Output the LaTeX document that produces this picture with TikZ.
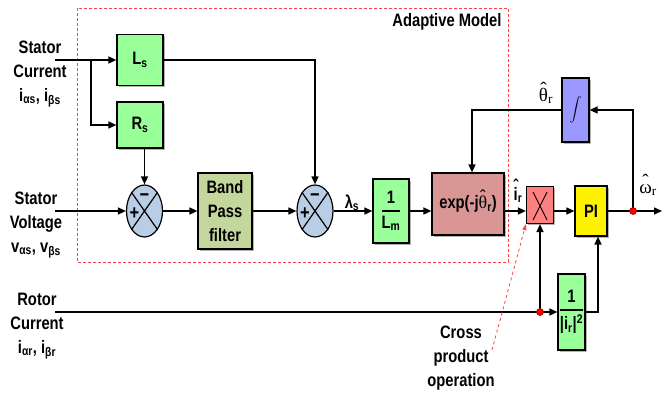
\documentclass[tikz,border=0pt]{standalone}
\usepackage{amsmath}
\usepackage{fontspec}
\setmainfont{Liberation Sans}[FakeStretch=0.82]
\newfontfamily\serifgr{Liberation Serif}
\usetikzlibrary{arrows.meta,shapes.geometric,shadows}
\definecolor{gbox}{HTML}{99FF99}
\definecolor{junc}{HTML}{B9CDE5}
\definecolor{bpcol}{HTML}{C3D69B}
\definecolor{expcol}{HTML}{D99694}
\definecolor{crosscol}{HTML}{FF8080}
\definecolor{intcol}{HTML}{9999FF}
\definecolor{dashcol}{HTML}{FF4040}
\newcommand\hatover[2]{\ooalign{#2\cr\hidewidth\raisebox{#1}{ˆ}\hidewidth\cr}}
\begin{document}
\begin{tikzpicture}[x=1pt,y=-1pt,
  font=\fontsize{18}{24}\selectfont\bfseries,
  >={Triangle[length=8pt,width=7pt]},
  box/.style={draw,line width=1.2pt,inner sep=0pt,
    drop shadow={shadow xshift=1.5pt,shadow yshift=-1.5pt,fill=black!50,opacity=.6}},
  sumj/.style={ellipse,draw,line width=1.2pt,fill=junc,minimum width=36pt,minimum height=52pt,inner sep=0pt},
  conn/.style={->,line width=1.5pt},
  plain/.style={line width=1.5pt},
  dot/.style={circle,fill=red,draw=red!60!black,line width=0.6pt,minimum size=7pt,inner sep=0pt},
  sgn/.style={font=\fontsize{20}{20}\selectfont\bfseries,inner sep=0pt},
  hatlbl/.style={font=\fontsize{19}{20}\selectfont\serifgr,inner sep=0pt}]
\useasboundingbox (0,0) rectangle (671,396);

% adaptive model frame
\draw[dashcol,densely dashed,line width=0.8pt] (77,8) rectangle (508,262);
\node[anchor=east] (am) at (505,22) {Adaptive Model};

% left labels
\node[align=center] (scl) at (40,74) {Stator\\Current\\i\textsubscript{αs}, i\textsubscript{βs}};
\node[align=center] (svl) at (36,225) {Stator\\Voltage\\v\textsubscript{αs}, v\textsubscript{βs}};
\node[align=center] (rcl) at (37,326) {Rotor\\Current\\i\textsubscript{αr}, i\textsubscript{βr}};

% blocks
\node[box,fill=gbox,minimum width=46pt,minimum height=51pt] (Ls) at (140,60) {L\textsubscript{s}};
\node[box,fill=gbox,minimum width=46pt,minimum height=46pt] (Rs) at (140,125) {R\textsubscript{s}};
\node[sumj] (j1) at (144.5,211) {};
\draw[line width=1.2pt] (j1.north west) -- (j1.south east) (j1.north east) -- (j1.south west);
\node[sgn] (j1m) at ([yshift=13pt]j1.center) {−};
\node[sgn] (j1p) at ([xshift=-10pt,yshift=-3pt]j1.center) {+};
\node[box,fill=bpcol,minimum width=54pt,minimum height=76pt,align=center] (bpf) at (225,211) {Band\\Pass\\filter};
\node[sumj] (j2) at (315,211) {};
\draw[line width=1.2pt] (j2.north west) -- (j2.south east) (j2.north east) -- (j2.south west);
\node[sgn] (j2m) at ([yshift=13pt]j2.center) {−};
\node[sgn] (j2p) at ([xshift=-10pt,yshift=-3pt]j2.center) {+};
\node[box,fill=gbox,minimum width=36pt,minimum height=64pt] (lm) at (391,211)
  {$\genfrac{}{}{1.4pt}{0}{\text{1}}{\text{L\textsubscript{m}}}$};
\node[box,fill=expcol,minimum width=72pt,minimum height=62pt] (exp) at (468,204)
  {exp(-j{\serifgr\mdseries\hatover{0.32em}{θ}}\textsubscript{r})};
\node[box,fill=crosscol,minimum width=27pt,minimum height=37pt] (cx) at (540,205) {};
\draw[line width=0.9pt] (cx.center) ++(-7,-13) -- ++(14,28) (cx.center) ++(7,-13) -- ++(-14,28);
\node[box,fill=yellow,minimum width=32pt,minimum height=50pt] (PI) at (591,211) {PI};
\node[box,fill=intcol,minimum width=27pt,minimum height=64pt] (int) at (575.5,110)
  {\fontsize{12}{12}\selectfont$\displaystyle\int$};
\node[box,fill=gbox,minimum width=27pt,minimum height=76pt] (inv) at (571.5,312)
  {$\genfrac{}{}{1.4pt}{0}{\text{1}}{\text{|i\textsubscript{r}|\textsuperscript{2}}}$};

% signal labels
\node (lam) at (352,203) {λ\textsubscript{s}};
\node (ihat) at (518,195) {\hatover{0.42em}{i}\textsubscript{r}};
\node[hatlbl] (thl) at (546,96) {\hatover{0.32em}{θ}\textsubscript{r}};
\node[hatlbl] (oml) at (648,190) {\hatover{0.32em}{ω}\textsubscript{r}};
\node[align=center] (cpo) at (461,358) {Cross\\product\\operation};

% coordinates
\coordinate (sc) at (55,60);
\coordinate (br) at (91,60);
\coordinate (sv) at (55,211);
\coordinate (rc) at (55,312);
\coordinate (p1) at (633,211);
\coordinate (p2) at (540,312);
\coordinate (out) at (662,211);
\coordinate (cpa) at (492,350);

% connectors
\draw[conn] (sc) -- (Ls.west);
\draw[conn] (br) |- (Rs.west);
\draw[conn] (j1.north |- Rs.south) -- (j1.north);
\draw[conn] (sv) -- (j1.west);
\draw[conn] (j1.east) -- (bpf.west);
\draw[conn] (bpf.east) -- (j2.west);
\draw[conn] (Ls.east) -| (j2.north);
\draw[conn] (j2.east) -- (lm.west);
\draw[conn] (lm.east) -- (lm.east -| exp.west);
\draw[conn] (exp.east |- lm.east) -- (cx.west |- lm.east);
\draw[conn] (cx.east |- PI.west) -- (PI.west);
\draw[conn] (PI.east) -- (out);
\draw[conn] (p1) |- (int.east);
\draw[conn] (int.west) -| ([xshift=4pt]exp.north);
\draw[plain] (rc) -- (p2);
\draw[conn] (p2) -- (inv.west);
\draw[conn] (p2) -- (cx.south);
\draw[conn] (inv.east) -| ([xshift=7pt]PI.south);
\draw[dashcol,dashed,line width=0.8pt,-{Triangle[length=6pt,width=4pt]}] (cpa) -- (cx.south west);

% junction dots
\node[dot] (d1) at (p1) {};
\node[dot] (d2) at (p2) {};
\end{tikzpicture}
\end{document}
